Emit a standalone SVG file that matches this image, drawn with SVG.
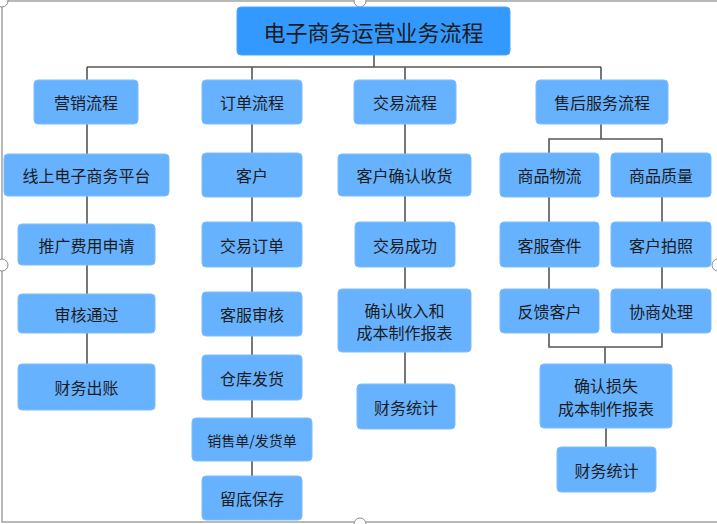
<svg xmlns="http://www.w3.org/2000/svg" width="717" height="524" viewBox="0 0 717 524">
<style>
.frame{fill:none;stroke:#8a8a8a;stroke-width:1.2}
.hdl{fill:#fff;stroke:#8a8a8a;stroke-width:1}
.title{fill:#3399ff;stroke:#4da6ff;stroke-width:1}
.box{fill:#66b2ff;stroke:#7dbdff;stroke-width:1}
text{font-family:"Noto Sans CJK SC","Noto Sans",sans-serif;fill:#1c1c1c;text-anchor:middle;dominant-baseline:central}
.t1{font-size:22px}
.t2{font-size:16px}
.t3{font-size:14px}
.conn line,.conn polyline{stroke:#555;stroke-width:1.6;fill:none}
</style>
<rect x="0" y="0" width="717" height="524" fill="#fff"/>
<rect class="frame" x="2" y="1" width="730" height="521"/>
<circle class="hdl" cx="2" cy="1" r="6"/>
<circle class="hdl" cx="360" cy="1" r="6"/>
<circle class="hdl" cx="2" cy="265" r="6"/>
<circle class="hdl" cx="718" cy="265" r="6"/>
<circle class="hdl" cx="360" cy="524" r="6"/>
<g class="conn">
<line x1="374" y1="55" x2="374" y2="67"/>
<line x1="87" y1="67" x2="601" y2="67"/>
<line x1="87" y1="67" x2="87" y2="80"/>
<line x1="252" y1="67" x2="252" y2="80"/>
<line x1="405" y1="67" x2="405" y2="80"/>
<line x1="601" y1="67" x2="601" y2="80"/>
<line x1="87" y1="124" x2="87" y2="364"/>
<line x1="252" y1="124" x2="252" y2="476"/>
<line x1="405" y1="124" x2="405" y2="384"/>
<line x1="601" y1="124" x2="601" y2="139"/>
<polyline points="549,153 549,139 662,139 662,153"/>
<line x1="549" y1="197" x2="549" y2="289"/>
<line x1="662" y1="197" x2="662" y2="289"/>
<polyline points="549,333 549,347 662,347 662,333"/>
<line x1="605" y1="347" x2="605" y2="364"/>
<line x1="606" y1="428" x2="606" y2="447"/>
</g>
<g id="n-title"><rect class="title" x="237" y="7" width="273" height="48" rx="4"/><text class="t1" x="373.5" y="31">电子商务运营业务流程</text></g>
<g id="n-yx"><rect class="box" x="34" y="80" width="104" height="44" rx="4"/><text class="t2" x="86" y="102">营销流程</text></g>
<g id="n-dd"><rect class="box" x="202" y="80" width="100" height="44" rx="4"/><text class="t2" x="252" y="102">订单流程</text></g>
<g id="n-jy"><rect class="box" x="354" y="80" width="102" height="44" rx="4"/><text class="t2" x="405" y="102">交易流程</text></g>
<g id="n-sh"><rect class="box" x="536" y="80" width="132" height="44" rx="4"/><text class="t2" x="602" y="102">售后服务流程</text></g>
<g id="n-xs"><rect class="box" x="4" y="154" width="165" height="42" rx="4"/><text class="t2" x="86.5" y="175">线上电子商务平台</text></g>
<g id="n-kh"><rect class="box" x="202" y="153" width="100" height="44" rx="4"/><text class="t2" x="252" y="175">客户</text></g>
<g id="n-qr"><rect class="box" x="338" y="154" width="133" height="42" rx="4"/><text class="t2" x="404.5" y="175">客户确认收货</text></g>
<g id="n-wl"><rect class="box" x="500" y="153" width="99" height="44" rx="4"/><text class="t2" x="549.5" y="175">商品物流</text></g>
<g id="n-zl"><rect class="box" x="611" y="153" width="100" height="44" rx="4"/><text class="t2" x="661" y="175">商品质量</text></g>
<g id="n-tg"><rect class="box" x="18" y="224" width="137" height="41" rx="4"/><text class="t2" x="86.5" y="244.5">推广费用申请</text></g>
<g id="n-jydd"><rect class="box" x="202" y="222" width="100" height="45" rx="4"/><text class="t2" x="252" y="244.5">交易订单</text></g>
<g id="n-cg"><rect class="box" x="355" y="222" width="100" height="45" rx="4"/><text class="t2" x="405" y="244.5">交易成功</text></g>
<g id="n-cj"><rect class="box" x="500" y="222" width="99" height="45" rx="4"/><text class="t2" x="549.5" y="244.5">客服查件</text></g>
<g id="n-pz"><rect class="box" x="611" y="222" width="100" height="45" rx="4"/><text class="t2" x="661" y="244.5">客户拍照</text></g>
<g id="n-sh2"><rect class="box" x="18" y="294" width="137" height="39" rx="4"/><text class="t2" x="86.5" y="313.5">审核通过</text></g>
<g id="n-kfsh"><rect class="box" x="202" y="292" width="100" height="44" rx="4"/><text class="t2" x="252" y="314">客服审核</text></g>
<g id="n-bb"><rect class="box" x="338" y="289" width="133" height="63" rx="4"/><text class="t2" x="404.5" y="310">确认收入和</text><text class="t2" x="404.5" y="332">成本制作报表</text></g>
<g id="n-fk"><rect class="box" x="500" y="289" width="99" height="44" rx="4"/><text class="t2" x="549.5" y="311">反馈客户</text></g>
<g id="n-xc"><rect class="box" x="611" y="289" width="100" height="44" rx="4"/><text class="t2" x="661" y="311">协商处理</text></g>
<g id="n-cz"><rect class="box" x="18" y="364" width="137" height="46" rx="4"/><text class="t2" x="86.5" y="387">财务出账</text></g>
<g id="n-ck"><rect class="box" x="202" y="355" width="100" height="45" rx="4"/><text class="t2" x="252" y="377.5">仓库发货</text></g>
<g id="n-tj1"><rect class="box" x="357" y="384" width="98" height="45" rx="4"/><text class="t2" x="406" y="406.5">财务统计</text></g>
<g id="n-ss"><rect class="box" x="540" y="364" width="132" height="64" rx="4"/><text class="t2" x="606" y="385">确认损失</text><text class="t2" x="606" y="408">成本制作报表</text></g>
<g id="n-xsd"><rect class="box" x="192" y="418" width="120" height="43" rx="4"/><text class="t3" x="252" y="439.5">销售单/发货单</text></g>
<g id="n-tj2"><rect class="box" x="557" y="447" width="99" height="45" rx="4"/><text class="t2" x="606.5" y="469.5">财务统计</text></g>
<g id="n-ld"><rect class="box" x="202" y="476" width="100" height="44" rx="4"/><text class="t2" x="252" y="498">留底保存</text></g>
</svg>
